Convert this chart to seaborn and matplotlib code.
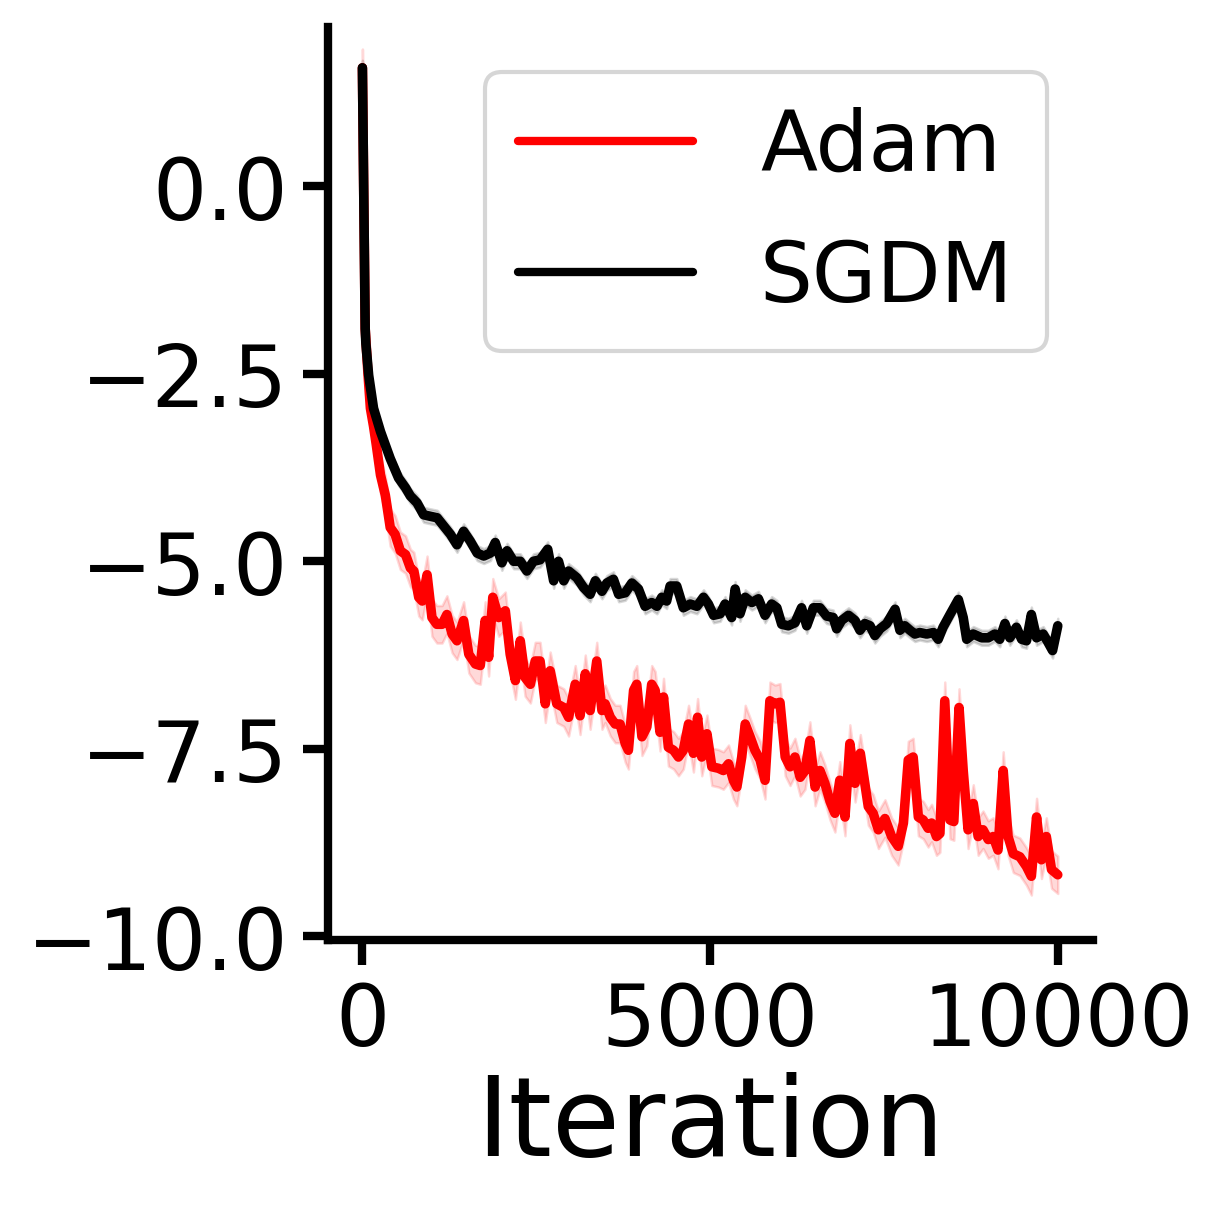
import pandas as pd
import seaborn as sns
import matplotlib
matplotlib.use('Agg')
import matplotlib.pyplot as plt
import numpy as np

# Adam curve (iteration, log loss)
adam_iter = [0, 40, 80, 115, 160, 200, 260, 330, 400, 470, 545, 620, 690, 740, 810, 860,
             930, 1000, 1070, 1145, 1215, 1290, 1360, 1455, 1530, 1625, 1695, 1765, 1815,
             1875, 1960, 2055, 2125, 2200, 2270, 2340, 2415, 2485, 2555, 2630, 2700, 2795,
             2895, 2965, 3060, 3130, 3205, 3275, 3370, 3445, 3490, 3565, 3635, 3705, 3780,
             3825, 3900, 3945, 4020, 4090, 4160, 4210, 4280, 4330, 4400, 4475, 4545, 4615,
             4690, 4760, 4820, 4880, 4955, 5025, 5120, 5190, 5265, 5335, 5385, 5455, 5505,
             5575, 5645, 5720, 5790, 5860, 5935, 6005, 6080, 6150, 6220, 6295, 6365, 6435,
             6510, 6580, 6650, 6725, 6795, 6865, 6940, 7010, 7085, 7160, 7275, 7345, 7420,
             7515, 7610, 7705, 7780, 7850, 7920, 7995, 8065, 8135, 8185, 8255, 8305, 8375,
             8450, 8505, 8580, 8640, 8710, 8785, 8855, 8925, 9000, 9070, 9140, 9215, 9285,
             9360, 9455, 9550, 9620, 9695, 9765, 9835, 9910, 10000]
adam_loss = [1.58, -1.9, -2.5, -2.96, -3.2, -3.45, -3.85, -4.12, -4.55, -4.64, -4.86, -4.91,
             -5.09, -5.13, -5.48, -5.53, -5.18, -5.75, -5.84, -5.84, -5.71, -5.97, -6.06,
             -5.79, -6.24, -6.37, -6.39, -5.79, -6.28, -5.48, -5.75, -5.66, -6.24, -6.59,
             -6.06, -6.55, -6.64, -6.33, -6.33, -6.90, -6.46, -6.90, -6.95, -7.08, -6.64,
             -7.06, -6.5, -6.99, -6.33, -6.99, -6.9, -7.08, -7.17, -7.17, -7.43, -7.52,
             -6.72, -6.64, -7.34, -7.21, -6.64, -6.72, -7.28, -6.81, -7.48, -7.52, -7.61,
             -7.52, -7.17, -7.56, -7.08, -7.61, -7.3, -7.74, -7.76, -7.79, -7.7, -7.92,
             -8.01, -7.61, -7.17, -7.34, -7.52, -7.65, -7.92, -6.86, -6.9, -6.88, -7.61,
             -7.74, -7.61, -7.88, -7.79, -7.39, -8.01, -7.79, -7.96, -8.2, -8.36, -7.92,
             -8.41, -7.43, -7.96, -7.56, -8.27, -8.36, -8.58, -8.43, -8.67, -8.80, -8.49,
             -7.65, -7.61, -8.41, -8.45, -8.56, -8.49, -8.67, -8.63, -6.86, -8.45, -8.47,
             -6.95, -7.79, -8.58, -8.23, -8.67, -8.58, -8.71, -8.67, -8.85, -7.79, -8.67,
             -8.90, -8.94, -9.07, -9.2, -8.41, -8.98, -8.67, -9.11, -9.18]

# SGDM curve
sgdm_iter = [0, 40, 50, 90, 160, 260, 400, 520, 620, 690, 785, 880, 975, 1075, 1170, 1265,
             1360, 1455, 1550, 1650, 1745, 1840, 1910, 2005, 2080, 2175, 2270, 2365, 2460,
             2555, 2665, 2750, 2820, 2895, 2965, 3085, 3180, 3275, 3350, 3445, 3515, 3610,
             3685, 3780, 3875, 3970, 4065, 4160, 4235, 4305, 4375, 4425, 4520, 4615, 4715,
             4810, 4905, 4975, 5050, 5145, 5215, 5310, 5360, 5430, 5505, 5600, 5695, 5790,
             5885, 5960, 6030, 6125, 6220, 6315, 6390, 6485, 6580, 6675, 6770, 6820, 6890,
             6990, 7085, 7155, 7225, 7300, 7370, 7445, 7540, 7660, 7730, 7800, 7875, 7945,
             8015, 8115, 8210, 8280, 8350, 8450, 8570, 8640, 8690, 8785, 8905, 9000, 9095,
             9165, 9240, 9310, 9405, 9480, 9550, 9620, 9695, 9790, 9860, 9925, 10000]
sgdm_loss = [1.58, -1.9, -2.1, -2.52, -2.96, -3.27, -3.63, -3.89, -4.02, -4.13, -4.22, -4.38,
             -4.4, -4.42, -4.53, -4.64, -4.78, -4.6, -4.73, -4.89, -4.93, -4.89, -4.75,
             -5.02, -4.86, -5.0, -5.0, -5.13, -5.0, -4.98, -4.84, -5.26, -5.0, -5.26, -5.13,
             -5.22, -5.35, -5.44, -5.26, -5.40, -5.29, -5.24, -5.44, -5.42, -5.29, -5.37,
             -5.6, -5.55, -5.6, -5.48, -5.53, -5.33, -5.33, -5.62, -5.57, -5.6, -5.48,
             -5.57, -5.72, -5.7, -5.57, -5.75, -5.37, -5.7, -5.48, -5.55, -5.5, -5.72,
             -5.57, -5.62, -5.84, -5.86, -5.82, -5.62, -5.86, -5.62, -5.62, -5.73, -5.75,
             -5.9, -5.79, -5.72, -5.79, -5.92, -5.83, -5.86, -5.99, -5.9, -5.83, -5.64,
             -5.92, -5.86, -5.92, -5.97, -5.95, -5.97, -5.95, -6.04, -5.88, -5.71, -5.51,
             -5.75, -6.04, -5.97, -6.02, -6.02, -5.97, -6.04, -5.83, -6.02, -5.88, -6.04,
             -6.06, -5.71, -6.02, -5.97, -6.08, -6.19, -5.86]

# half width of the shaded band around each curve
adam_spread = 0.25
sgdm_spread = 0.1

colors = {'Adam': 'red', 'SGDM': 'black'}

df = pd.concat([
    pd.DataFrame({'Iteration': adam_iter, 'loss': adam_loss, 'opt': 'Adam'}),
    pd.DataFrame({'Iteration': sgdm_iter, 'loss': sgdm_loss, 'opt': 'SGDM'}),
], ignore_index=True)

sns.set_style('ticks', {'axes.edgecolor': 'black', 'text.color': 'black',
                        'xtick.color': 'black', 'ytick.color': 'black',
                        'axes.labelcolor': 'black'})
plt.rcParams['font.family'] = ['DejaVu Sans']

fig = plt.figure(figsize=(4.06, 4.06), dpi=300)
ax = fig.add_axes([0.269, 0.2274, 0.628, 0.75])

# shaded bands first
ax.fill_between(adam_iter, np.array(adam_loss) - adam_spread, np.array(adam_loss) + adam_spread,
                color='red', alpha=0.15, linewidth=0.6)
ax.fill_between(sgdm_iter, np.array(sgdm_loss) - sgdm_spread, np.array(sgdm_loss) + sgdm_spread,
                color='black', alpha=0.15, linewidth=0.6)

sns.lineplot(data=df, x='Iteration', y='loss', hue='opt', palette=colors,
             linewidth=2.3, errorbar=None, ax=ax)

sns.despine(ax=ax)
for sp in ['left', 'bottom']:
    ax.spines[sp].set_linewidth(2.0)
ax.tick_params(axis='both', labelsize=20.5, width=2.0, length=6, colors='black')
ax.set_xticks([0, 5000, 10000])
ax.set_yticks([0.0, -2.5, -5.0, -7.5, -10.0])
ax.set_ylim(-10.05, 2.13)
ax.set_xlabel('Iteration', fontsize=26.5, labelpad=2, color='black')
ax.set_ylabel('')

handles, labels = ax.get_legend_handles_labels()
for h in handles:
    h.set_linewidth(2.0)
leg = ax.legend(handles, labels, loc='upper right', fontsize=20, handlelength=2.1,
                handletextpad=0.8, labelspacing=0.6, borderaxespad=0.55, frameon=True)
for t in leg.get_texts():
    t.set_color('black')

fig.savefig('out.png', dpi=300)
